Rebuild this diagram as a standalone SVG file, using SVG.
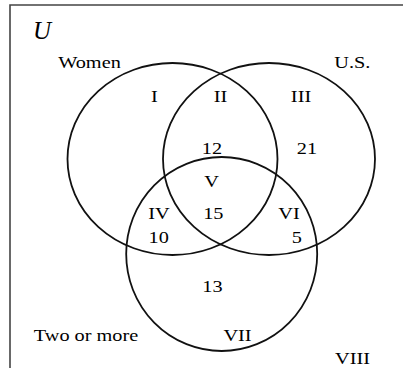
<svg xmlns="http://www.w3.org/2000/svg" width="403" height="368" viewBox="0 0 403 368">
<style>
.c{fill:none;stroke:#111;stroke-width:1.8}
.t{font-family:"Liberation Serif","Times New Roman",serif;font-size:17.5px;fill:#000;text-anchor:middle}
</style>
<rect width="403" height="368" fill="#fff"/>
<path d="M10,372 V5 H410" fill="none" stroke="#444" stroke-width="1.6"/>
<text x="33" y="39" font-family="Liberation Serif, serif" font-style="italic" font-size="25" fill="#000">U</text>
<g id="connectors"></g>
<g id="women"><ellipse class="c" cx="172.5" cy="159" rx="105" ry="96"/>
<text class="t" transform="translate(89.5,68) scale(1.16,1)">Women</text></g>
<g id="us"><ellipse class="c" cx="269" cy="159" rx="106" ry="96"/>
<text class="t" transform="translate(352.3,68) scale(1.16,1)">U.S.</text></g>
<g id="twoormore"><ellipse class="c" cx="221.7" cy="254" rx="95.5" ry="97"/>
<text class="t" transform="translate(86,341.3) scale(1.16,1)">Two or more</text></g>
<g id="regions">
<text class="t" transform="translate(154.5,102) scale(1.16,1)">I</text>
<text class="t" transform="translate(220.5,102) scale(1.16,1)">II</text>
<text class="t" transform="translate(301,102) scale(1.16,1)">III</text>
<text class="t" transform="translate(212,154) scale(1.16,1)">12</text>
<text class="t" transform="translate(307,154) scale(1.16,1)">21</text>
<text class="t" transform="translate(211.5,187) scale(1.16,1)">V</text>
<text class="t" transform="translate(159,219) scale(1.16,1)">IV</text>
<text class="t" transform="translate(213.3,219) scale(1.16,1)">15</text>
<text class="t" transform="translate(289,219) scale(1.16,1)">VI</text>
<text class="t" transform="translate(158.7,243.3) scale(1.16,1)">10</text>
<text class="t" transform="translate(296.7,243.3) scale(1.16,1)">5</text>
<text class="t" transform="translate(212.5,292.3) scale(1.16,1)">13</text>
<text class="t" transform="translate(237.5,341.3) scale(1.16,1)">VII</text>
<text class="t" transform="translate(352.5,364) scale(1.16,1)">VIII</text>
</g>
</svg>
